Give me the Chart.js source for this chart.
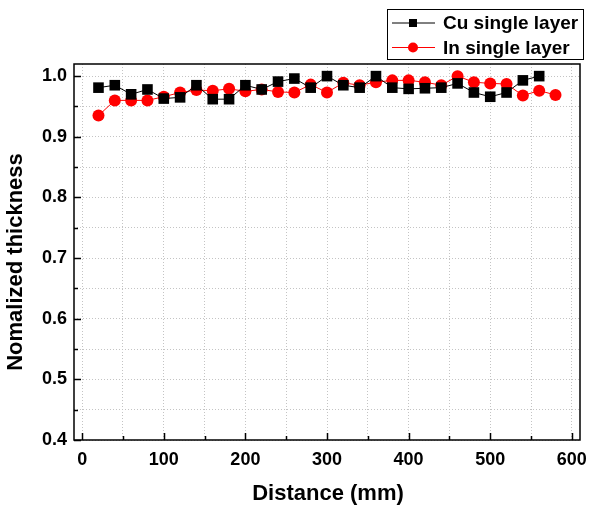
<!DOCTYPE html>
<html lang="en">
<head>
<meta charset="UTF-8">
<title>Normalized thickness vs distance</title>
<script src="https://cdn.jsdelivr.net/npm/chart.js"></script>
<style>
  html, body { margin: 0; padding: 0; background: #fff; }
  #wrap { width: 596px; height: 507px; }
</style>
</head>
<body>
<div id="wrap"><canvas id="thkChart" width="596" height="507"></canvas></div>
<script>
// distance positions (mm)
const cuDistance = [20, 40, 60, 80, 100, 120, 140, 160, 180, 200, 220, 240, 260, 280, 300,
                    320, 340, 360, 380, 400, 420, 440, 460, 480, 500, 520, 540, 560];
const inDistance = [20, 40, 60, 80, 100, 120, 140, 160, 180, 200, 220, 240, 260, 280, 300,
                    320, 340, 360, 380, 400, 420, 440, 460, 480, 500, 520, 540, 560, 580];
// normalized thickness
const cuThickness = [0.981, 0.985, 0.970, 0.978, 0.963, 0.965, 0.985, 0.962, 0.962, 0.985,
                     0.978, 0.991, 0.996, 0.981, 1.000, 0.985, 0.981, 1.000, 0.981, 0.979,
                     0.980, 0.981, 0.988, 0.973, 0.966, 0.973, 0.993, 1.000];
const inThickness = [0.935, 0.960, 0.960, 0.960, 0.966, 0.973, 0.977, 0.976, 0.979, 0.975,
                     0.978, 0.974, 0.973, 0.986, 0.973, 0.989, 0.985, 0.990, 0.993, 0.993,
                     0.990, 0.985, 1.000, 0.990, 0.988, 0.987, 0.968, 0.976, 0.969];
const seriesNames = ['Cu single layer', 'In single layer'];
const xTickLabels = [0, 100, 200, 300, 400, 500, 600];
const yTickLabels = [0.4, 0.5, 0.6, 0.7, 0.8, 0.9, 1.0];
const xTitle = 'Distance (mm)';
const yTitle = 'Nomalized thickness';

const FONT = 'Arial, "Liberation Sans", sans-serif';

function toPoints(xs, ys) {
  return xs.map((x, i) => ({ x: x, y: ys[i] }));
}

// frame, inward ticks, axis titles and boxed legend, Origin style
const framePlugin = {
  id: 'frame',
  afterDraw(chart) {
    const ctx = chart.ctx;
    const a = chart.chartArea;
    const xs = chart.scales.x, ys = chart.scales.y;
    ctx.save();
    ctx.strokeStyle = '#000';
    ctx.lineWidth = 1.5;
    ctx.strokeRect(a.left, a.top, a.right - a.left, a.bottom - a.top);

    ctx.beginPath();
    for (let v = 0; v <= 600; v += 50) {
      const px = Math.round(xs.getPixelForValue(v)) + 0.5;
      const len = (v % 100 === 0) ? 7 : 4;
      ctx.moveTo(px, a.bottom);
      ctx.lineTo(px, a.bottom - len);
    }
    for (let i = 0; i <= 12; i++) {
      const v = 0.4 + i * 0.05;
      const py = Math.round(ys.getPixelForValue(v)) + 0.5;
      const len = (i % 2 === 0) ? 7 : 4;
      ctx.moveTo(a.left, py);
      ctx.lineTo(a.left + len, py);
    }
    ctx.stroke();

    // axis titles
    ctx.fillStyle = '#000';
    ctx.font = 'bold 22px ' + FONT;
    ctx.textAlign = 'center';
    ctx.textBaseline = 'middle';
    ctx.fillText(xTitle, (a.left + a.right) / 2 + 1, 494);
    ctx.save();
    ctx.translate(16, 262);
    ctx.rotate(-Math.PI / 2);
    ctx.fillText(yTitle, 0, 0);
    ctx.restore();

    // legend box
    const bx = 387, by = 9, bw = 196, bh = 50;
    ctx.fillStyle = '#fff';
    ctx.fillRect(bx, by, bw, bh);
    ctx.strokeStyle = '#000';
    ctx.lineWidth = 1;
    ctx.strokeRect(bx + 0.5, by + 0.5, bw, bh);
    chart.data.datasets.forEach((ds, i) => {
      const y = by + 14 + i * 24.5;
      ctx.strokeStyle = ds.borderColor;
      ctx.lineWidth = 1;
      ctx.beginPath();
      ctx.moveTo(bx + 5, y);
      ctx.lineTo(bx + 48, y);
      ctx.stroke();
      ctx.fillStyle = ds.backgroundColor;
      ctx.beginPath();
      if (ds.pointStyle === 'rect') {
        ctx.rect(bx + 26 - 4, y - 4, 8, 8);
      } else {
        ctx.arc(bx + 26, y, 5, 0, Math.PI * 2);
      }
      ctx.fill();
      ctx.fillStyle = '#000';
      ctx.font = 'bold 19px ' + FONT;
      ctx.textBaseline = 'middle';
      ctx.textAlign = 'left';
      ctx.fillText(ds.label, bx + 56, y + 1);
    });
    ctx.restore();
  }
};

new Chart(document.getElementById('thkChart'), {
  type: 'scatter',
  data: {
    datasets: [
      {
        label: seriesNames[0],
        data: toPoints(cuDistance, cuThickness),
        showLine: true,
        borderColor: '#000',
        backgroundColor: '#000',
        borderWidth: 1,
        pointStyle: 'rect',
        pointRadius: 7.5,
        pointBorderWidth: 0
      },
      {
        label: seriesNames[1],
        data: toPoints(inDistance, inThickness),
        showLine: true,
        borderColor: '#ff0000',
        backgroundColor: '#ff0000',
        borderWidth: 1,
        pointStyle: 'circle',
        pointRadius: 6,
        pointBorderWidth: 0
      }
    ]
  },
  options: {
    responsive: false,
    animation: false,
    layout: { padding: { top: 64, right: 9, left: 0, bottom: 0 } },
    plugins: {
      legend: { display: false },
      tooltip: { enabled: false }
    },
    scales: {
      x: {
        type: 'linear',
        min: -10,
        max: 610,
        afterFit(scale) { scale.height = 67; },
        border: { display: false, dash: [1, 2] },
        grid: {
          color: '#c4c4c4',
          lineWidth: 1,
          drawTicks: false
        },
        ticks: {
          stepSize: 50,
          includeBounds: false,
          autoSkip: false,
          maxRotation: 0,
          padding: 9,
          color: '#000',
          font: { family: FONT, size: 18, weight: 'bold' },
          callback(v) {
            return xTickLabels.includes(v) ? String(v) : '';
          }
        }
      },
      y: {
        type: 'linear',
        min: 0.4,
        max: 1.02,
        afterFit(scale) { scale.width = 74; },
        border: { display: false, dash: [1, 2] },
        grid: {
          color: '#c4c4c4',
          lineWidth: 1,
          drawTicks: false
        },
        ticks: {
          stepSize: 0.05,
          includeBounds: false,
          autoSkip: false,
          padding: 7,
          color: '#000',
          font: { family: FONT, size: 18, weight: 'bold' },
          callback(v) {
            const r = Math.round(v * 100) / 100;
            return yTickLabels.some(t => Math.abs(t - r) < 1e-6) ? r.toFixed(1) : '';
          }
        }
      }
    }
  },
  plugins: [framePlugin]
});
</script>
</body>
</html>
